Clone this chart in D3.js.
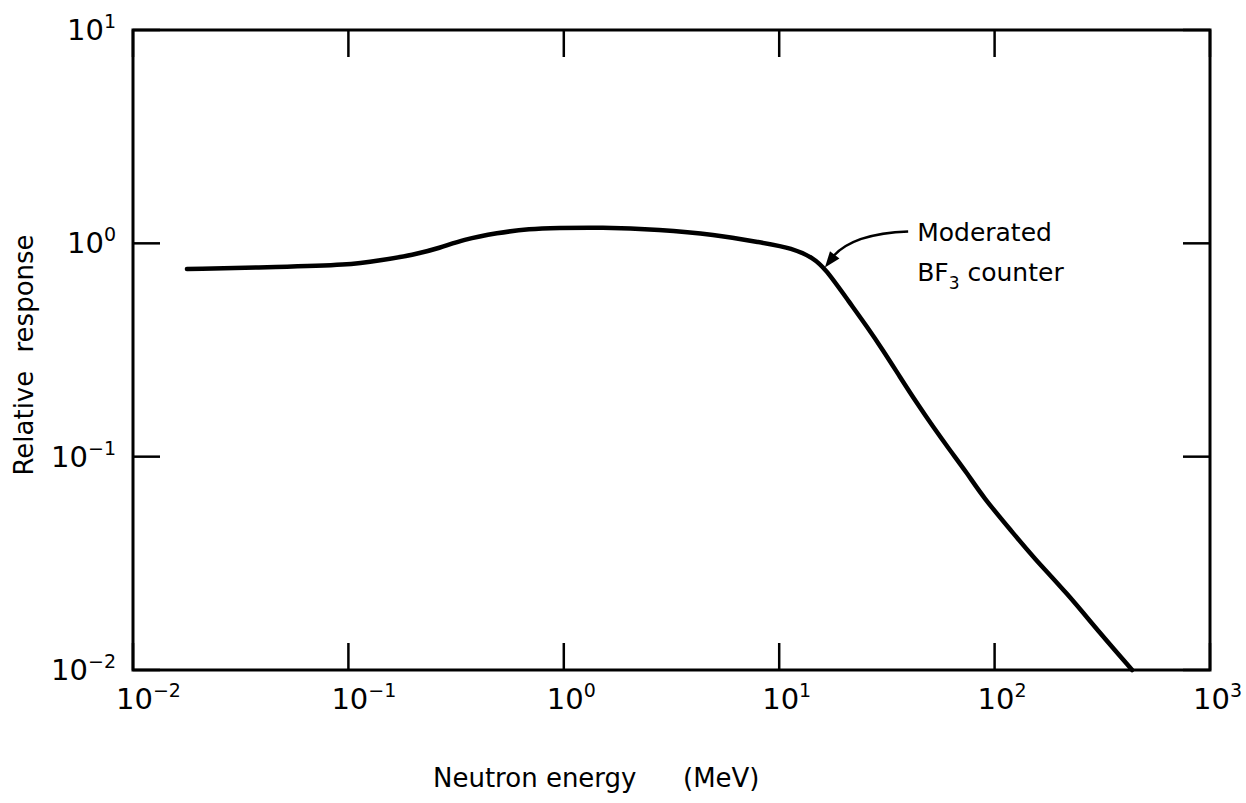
<!DOCTYPE html>
<html>
<head>
<meta charset="utf-8">
<script src="https://cdn.jsdelivr.net/npm/d3@7/dist/d3.min.js"></script>
<style>
  html, body { margin: 0; padding: 0; background: #fff; }
  svg { display: block; }
  text { font-family: "DejaVu Sans", "Liberation Sans", sans-serif; fill: #000; }
</style>
</head>
<body>
<svg id="chart" width="1246" height="803"></svg>
<script>
// Response of a moderated BF3 counter versus neutron energy (log–log)
const energyMeV = [0.0178, 0.048, 0.1, 0.14, 0.2, 0.266, 0.34, 0.49, 0.697, 0.93,
                   1.47, 2.8, 5, 8.15, 11.6, 14.4, 16.3, 21.3, 25.6, 30.3,
                   36.4, 43.6, 51.8, 62.1, 74.5, 88.3, 122, 151, 217, 308, 435];
const relResponse = [0.758, 0.774, 0.791, 0.832, 0.882, 0.951, 1.04, 1.12, 1.17, 1.18,
                     1.19, 1.16, 1.10, 1.01, 0.95, 0.853, 0.766, 0.525, 0.406, 0.316,
                     0.236, 0.178, 0.138, 0.107, 0.0838, 0.0647, 0.0438, 0.0338, 0.0229, 0.0149, 0.0100];

const xTickExps = [-2, -1, 0, 1, 2, 3];
const yTickExps = [-2, -1, 0, 1];
const xTitle = ["Neutron energy", "(MeV)"];
const yTitle = "Relative response";
const curveLabel = ["Moderated", "BF", "3", " counter"];
// label anchor and arrow tip, in data units
const labelAt = { e: 43.7, r: 1.02 };
const arrowTip = { e: 16.3, r: 0.77 };

const svg = d3.select("#chart");
const x = d3.scaleLog().domain([1e-2, 1e3]).range([133, 1210]);
const y = d3.scaleLog().domain([1e-2, 1e1]).range([670, 30]);

const tickLen = 27;

// frame
svg.append("rect")
  .attr("x", x.range()[0]).attr("y", y.range()[1])
  .attr("width", x.range()[1] - x.range()[0])
  .attr("height", y.range()[0] - y.range()[1])
  .attr("fill", "none").attr("stroke", "#000").attr("stroke-width", 3);

// inward ticks on all four sides
const g = svg.append("g").attr("stroke", "#000").attr("stroke-width", 2.5);
xTickExps.forEach(k => {
  const px = x(Math.pow(10, k));
  g.append("line").attr("x1", px).attr("x2", px).attr("y1", y.range()[0]).attr("y2", y.range()[0] - tickLen);
  g.append("line").attr("x1", px).attr("x2", px).attr("y1", y.range()[1]).attr("y2", y.range()[1] + tickLen);
});
yTickExps.forEach(k => {
  const py = y(Math.pow(10, k));
  g.append("line").attr("x1", x.range()[0]).attr("x2", x.range()[0] + tickLen).attr("y1", py).attr("y2", py);
  g.append("line").attr("x1", x.range()[1]).attr("x2", x.range()[1] - tickLen).attr("y1", py).attr("y2", py);
});

function expLabel(k) { return k < 0 ? "\u2212" + (-k) : String(k); }

// x tick labels: "10" centred on the tick with superscript exponent
xTickExps.forEach(k => {
  const px = x(Math.pow(10, k));
  const t = svg.append("text")
    .attr("x", px - 17).attr("y", 709)
    .style("font-size", "29px");
  t.append("tspan").text("10");
  t.append("tspan").attr("dy", -12).style("font-size", "19px").text(expLabel(k));
});

// y tick labels, right-aligned left of the frame
yTickExps.forEach(k => {
  const py = y(Math.pow(10, k));
  const t = svg.append("text")
    .attr("x", 116).attr("y", py + 10)
    .attr("text-anchor", "end")
    .style("font-size", "29px");
  t.append("tspan").text("10");
  t.append("tspan").attr("dy", -12).style("font-size", "19px").text(expLabel(k));
});

// axis titles
svg.append("text")
  .attr("x", 433).attr("y", 787)
  .style("font-size", "26px")
  .text(xTitle[0]);
svg.append("text")
  .attr("x", 683).attr("y", 787)
  .style("font-size", "26px")
  .text(xTitle[1]);

svg.append("text")
  .attr("transform", "translate(33,355) rotate(-90)")
  .attr("text-anchor", "middle")
  .style("font-size", "26px")
  .style("word-spacing", "10px")
  .text(yTitle);

// response curve (B-spline through the read-off points)
const pts = energyMeV.map((e, i) => [x(e), y(relResponse[i])]);
svg.append("path")
  .attr("d", d3.line().curve(d3.curveBasis)(pts))
  .attr("fill", "none").attr("stroke", "#000")
  .attr("stroke-width", 4.5).attr("stroke-linejoin", "round").attr("stroke-linecap", "round");

// annotation label
const lx = x(labelAt.e), ly = y(labelAt.r);
svg.append("text").attr("x", lx).attr("y", ly)
  .style("font-size", "25px").text(curveLabel[0]);
const t2 = svg.append("text").attr("x", lx).attr("y", ly + 40).style("font-size", "25px");
t2.append("tspan").text(curveLabel[1]);
t2.append("tspan").attr("dy", 8).style("font-size", "17px").text(curveLabel[2]);
t2.append("tspan").attr("dy", -8).text(curveLabel[3]);

// curved arrow from the label to the curve
const tx = x(arrowTip.e), ty = y(arrowTip.r);
const sx = lx - 9, sy = ly - 10;
const ctrl = [sx - 55, sy + 2];
svg.append("path")
  .attr("d", `M${sx},${sy} Q${ctrl[0]},${ctrl[1]} ${tx + 8},${ty - 11}`)
  .attr("fill", "none").attr("stroke", "#000").attr("stroke-width", 2.5);
// arrowhead pointing down-left onto the curve
const ang = Math.atan2(18, -14);
const hl = 16, hw = 6;
const bx = tx - hl * Math.cos(ang), by = ty - hl * Math.sin(ang);
const nx = -Math.sin(ang), ny = Math.cos(ang);
svg.append("path")
  .attr("d", `M${tx},${ty} L${bx + hw * nx},${by + hw * ny} L${bx - hw * nx},${by - hw * ny} Z`)
  .attr("fill", "#000");
</script>
</body>
</html>
